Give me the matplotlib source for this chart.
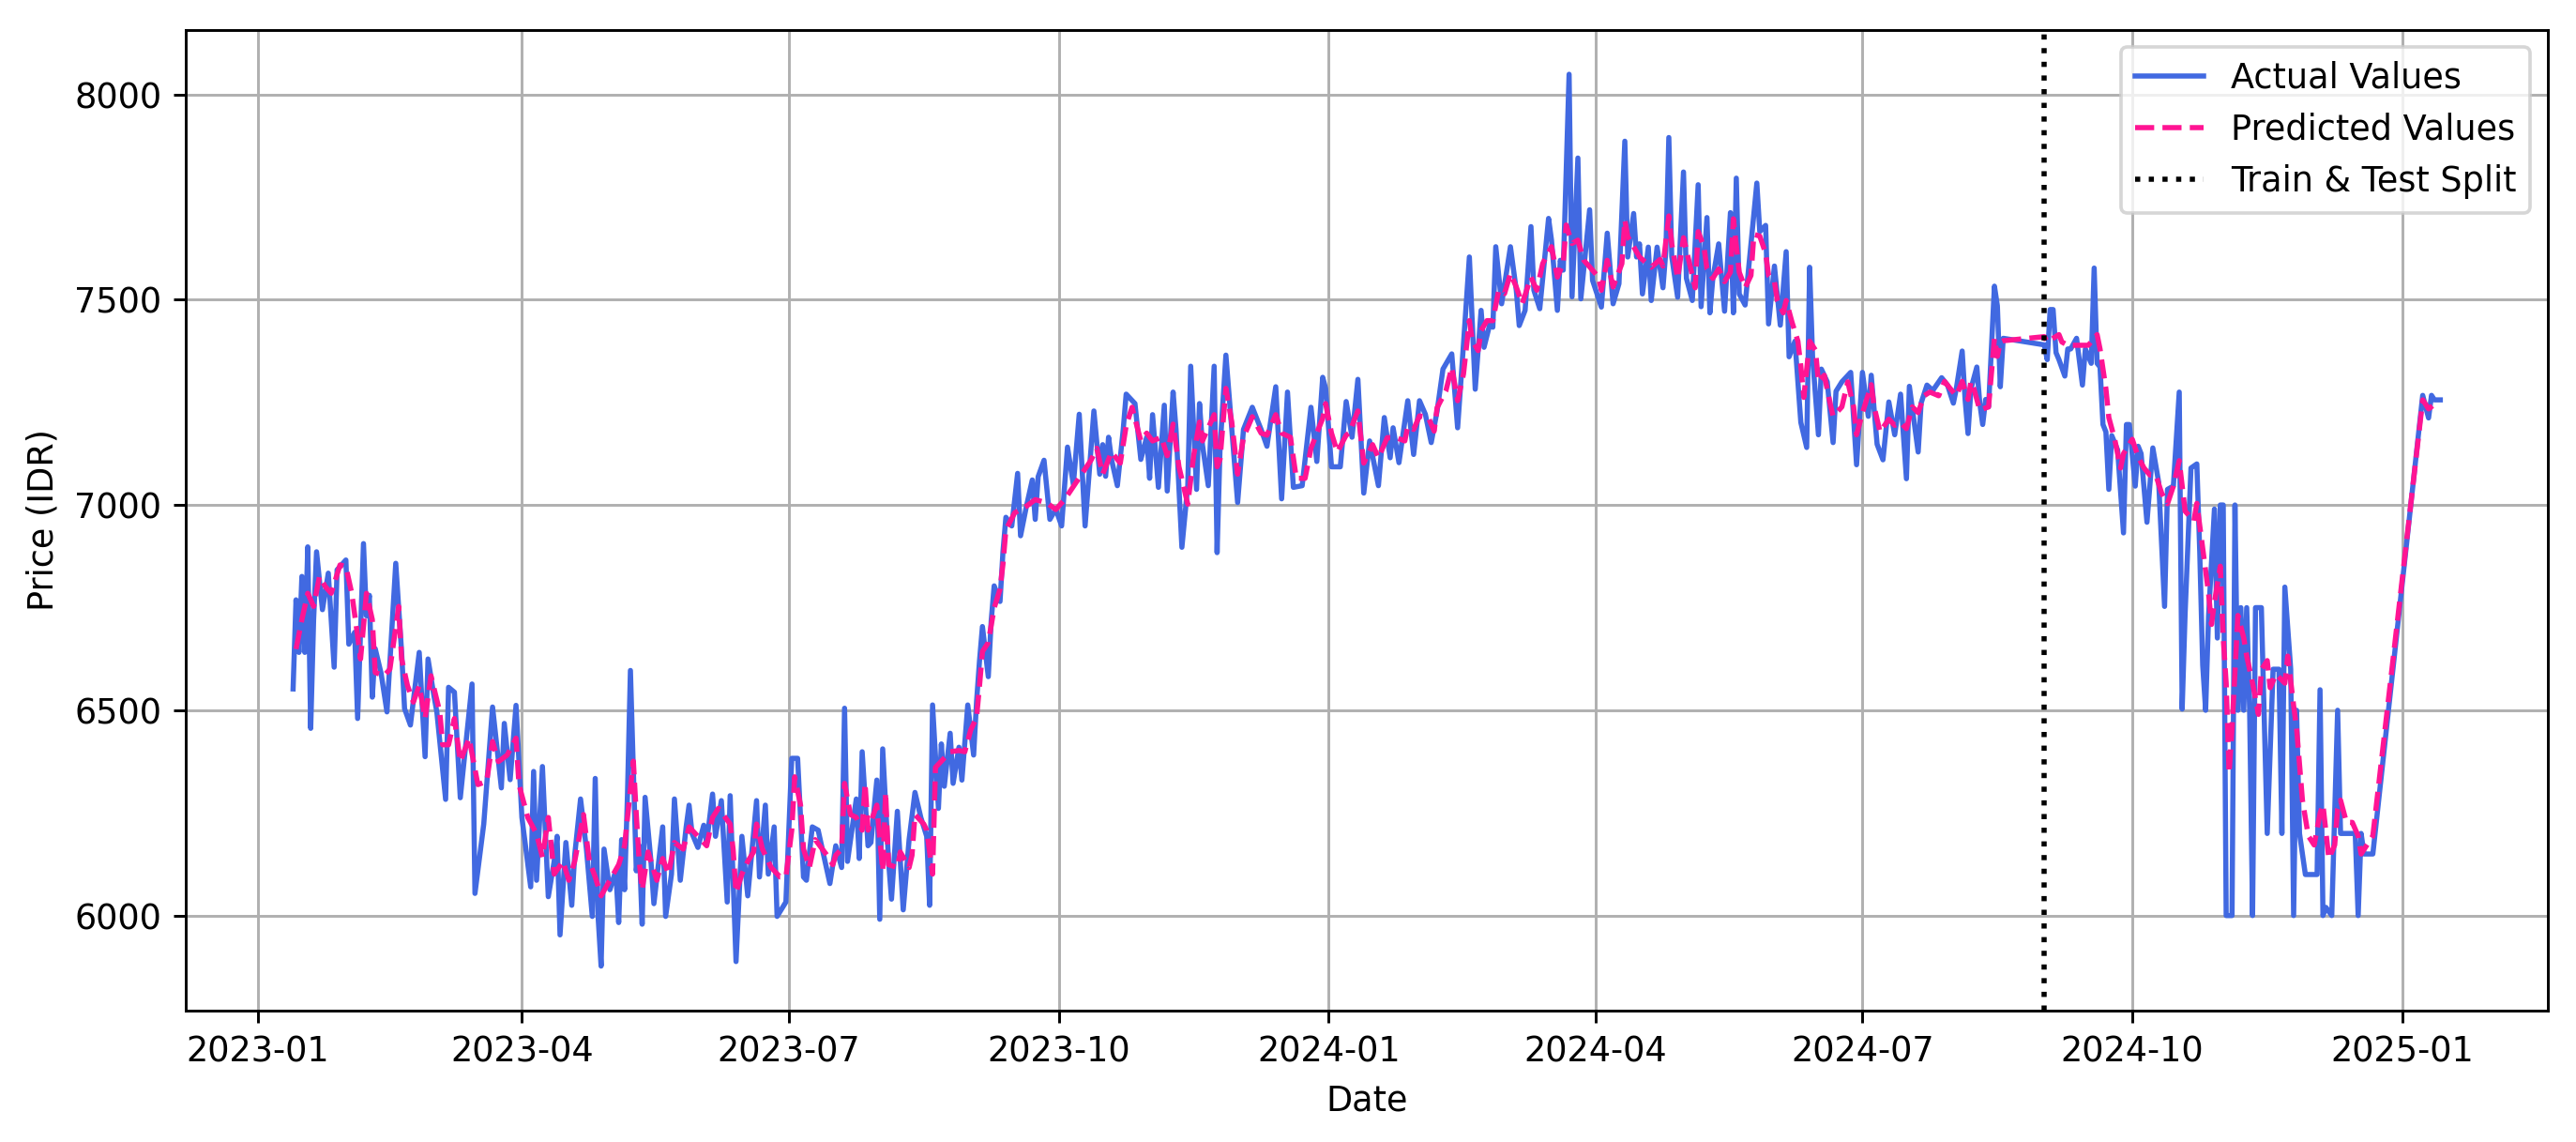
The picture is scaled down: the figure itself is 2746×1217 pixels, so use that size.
import pandas as pd
import numpy as np
from matplotlib import pyplot as plt
import matplotlib.dates as mdates

# day offsets counted from this date
base = pd.Timestamp("2023-01-01")

act_day = [
    12, 13, 14, 15, 16, 17, 18, 19, 20, 22, 24, 26, 27, 30, 31, 33, 34, 36, 37, 38,
    39, 40, 42, 44, 47, 49, 50, 52, 55, 57, 58, 60, 61, 64, 65, 67, 69, 73, 74, 77,
    80, 83, 84, 86, 88, 90, 93, 94, 95, 97, 99, 101, 102, 103, 105, 107, 108, 110, 111, 112,
    114, 115, 116, 117, 118, 120, 122, 123, 124, 125, 126, 127, 129, 130, 131, 132, 134, 135, 138, 139,
    141, 142, 144, 146, 147, 148, 150, 152, 153, 155, 156, 158, 160, 161, 163, 165, 167, 170, 171, 173,
    174, 176, 177, 180, 182, 184, 186, 187, 189, 191, 195, 197, 199, 200, 201, 204, 205, 206, 208, 209,
    211, 212, 213, 215, 216, 218, 220, 222, 224, 226, 228, 229, 230, 232, 233, 234, 236, 237, 239, 240,
    242, 244, 245, 246, 247, 249, 250, 251, 253, 254, 255, 257, 259, 260, 262, 264, 265, 266, 268, 270,
    272, 274, 276, 278, 280, 282, 285, 287, 288, 289, 290, 291, 293, 295, 296, 299, 301, 303, 304, 305,
    307, 309, 310, 312, 313, 315, 317, 318, 320, 321, 322, 324, 326, 327, 328, 330, 331, 334, 336, 339,
    342, 344, 347, 349, 351, 353, 356, 359, 361, 363, 364, 366, 369, 371, 373, 375, 377, 379, 382, 384,
    386, 387, 389, 392, 394, 396, 398, 400, 402, 404, 407, 409, 411, 413, 415, 417, 418, 420, 421, 422,
    424, 427, 429, 430, 432, 434, 435, 437, 440, 441, 443, 444, 445, 447, 448, 450, 451, 454, 455, 458,
    460, 462, 464, 466, 467, 469, 470, 471, 472, 474, 475, 477, 479, 480, 481, 482, 484, 486, 487, 489,
    491, 492, 494, 495, 496, 498, 500, 502, 503, 504, 505, 507, 509, 511, 512, 514, 515, 517, 519, 521,
    522, 524, 526, 528, 529, 530, 532, 533, 535, 537, 538, 540, 543, 545, 547, 549, 550, 552, 554, 556,
    558, 560, 562, 563, 566, 567, 569, 571, 574, 576, 578, 579, 581, 582, 583, 584, 586, 587, 588, 589,
    590, 592, 593, 594, 595, 609, 610, 611, 612, 613, 614, 616, 617, 618, 620, 622, 623, 625, 626, 627,
    628, 629, 630, 631, 632, 634, 636, 637, 638, 640, 641, 642, 644, 646, 648, 650, 651, 653, 655, 656,
    657, 659, 661, 662, 663, 664, 665, 667, 668, 669, 670, 671, 673, 674, 675, 676, 677, 678, 679, 680,
    681, 683, 685, 687, 689, 690, 691, 693, 694, 695, 696, 698, 702, 703, 704, 705, 707, 709, 710, 712,
    715, 716, 717, 718, 721, 738, 740, 741, 742, 744,
]
act_val = [
    6552, 6769, 6641, 6826, 6641, 6898, 6456, 6721, 6886, 6745, 6834, 6605, 6842, 6866, 6661, 6690, 6480, 6906, 6730, 6780,
    6532, 6650, 6590, 6496, 6858, 6641, 6504, 6464, 6641, 6387, 6625, 6536, 6496, 6283, 6556, 6544, 6287, 6564, 6054, 6223,
    6508, 6311, 6468, 6331, 6512, 6239, 6070, 6351, 6086, 6363, 6046, 6132, 6193, 5953, 6178, 6025, 6147, 6284, 6223, 6162,
    5998, 6334, 5995, 5877, 6162, 6063, 6109, 5983, 6185, 6063, 6296, 6597, 6109, 6170, 5979, 6288, 6132, 6029, 6216, 5998,
    6101, 6284, 6086, 6216, 6269, 6200, 6166, 6220, 6178, 6296, 6193, 6280, 6033, 6292, 5888, 6193, 6048, 6280, 6094, 6269,
    6101, 6216, 5998, 6033, 6383, 6383, 6094, 6086, 6216, 6208, 6078, 6170, 6117, 6505, 6132, 6284, 6139, 6399, 6170, 6178,
    6330, 5991, 6406, 6132, 6040, 6254, 6014, 6185, 6300, 6239, 6193, 6025, 6513, 6261, 6418, 6315, 6444, 6322, 6410, 6330,
    6513, 6391, 6521, 6620, 6704, 6582, 6719, 6803, 6765, 6886, 6970, 6949, 7077, 6925, 6997, 7061, 6965, 7069, 7109, 6965,
    6990, 6949, 7141, 7050, 7221, 6949, 7229, 7075, 7147, 7070, 7165, 7111, 7047, 7184, 7270, 7247, 7111, 7165, 7065, 7220,
    7043, 7243, 7034, 7275, 7184, 6897, 7047, 7338, 7038, 7247, 7147, 7047, 7338, 6884, 7138, 7365, 7275, 7006, 7184, 7238,
    7184, 7143, 7288, 7015, 7275, 7043, 7047, 7238, 7106, 7311, 7284, 7093, 7093, 7252, 7165, 7306, 7029, 7156, 7047, 7213,
    7115, 7188, 7103, 7254, 7123, 7254, 7221, 7152, 7229, 7331, 7368, 7188, 7392, 7604, 7282, 7474, 7384, 7441, 7433, 7629,
    7490, 7629, 7523, 7437, 7474, 7678, 7523, 7478, 7698, 7645, 7474, 7596, 7572, 8049, 7507, 7845, 7502, 7719, 7547, 7482,
    7662, 7490, 7539, 7886, 7604, 7710, 7604, 7636, 7514, 7628, 7498, 7628, 7529, 7620, 7895, 7605, 7506, 7811, 7552, 7498,
    7780, 7483, 7700, 7468, 7552, 7636, 7472, 7712, 7468, 7796, 7514, 7487, 7636, 7784, 7666, 7681, 7441, 7582, 7438, 7617,
    7361, 7399, 7201, 7140, 7579, 7361, 7171, 7331, 7300, 7152, 7277, 7300, 7323, 7098, 7323, 7216, 7316, 7148, 7110, 7251,
    7171, 7270, 7064, 7289, 7129, 7248, 7292, 7279, 7310, 7292, 7248, 7283, 7375, 7257, 7174, 7283, 7336, 7248, 7196, 7257,
    7239, 7533, 7485, 7288, 7406, 7390, 7354, 7476, 7476, 7371, 7354, 7314, 7380, 7380, 7406, 7292, 7380, 7345, 7577, 7345,
    7336, 7196, 7178, 7038, 7169, 7134, 6932, 7196, 7196, 7046, 7143, 7125, 6958, 7139, 7055, 6753, 7038, 7046, 7275, 6503,
    6735, 7090, 7100, 6884, 6610, 6500, 6730, 6990, 6676, 7000, 7000, 6000, 6000, 7000, 6500, 6750, 6500, 6750, 6500, 6000,
    6750, 6750, 6200, 6600, 6600, 6200, 6800, 6600, 6000, 6500, 6200, 6100, 6100, 6550, 6000, 6020, 6000, 6500, 6200, 6200,
    6200, 6000, 6200, 6150, 6150, 7267, 7212, 7267, 7256, 7256,
]

pred_day = [
    13, 15, 17, 19, 21, 23, 25, 28, 30, 32, 34, 35, 37, 39, 40, 43, 45, 48, 49, 51,
    53, 55, 57, 59, 62, 63, 65, 67, 69, 72, 75, 78, 80, 82, 85, 88, 89, 92, 95, 97,
    99, 101, 104, 106, 108, 111, 113, 115, 117, 120, 123, 125, 128, 129, 130, 131, 133, 136, 138, 140,
    142, 145, 147, 150, 153, 155, 157, 161, 162, 163, 165, 167, 169, 170, 172, 175, 178, 180, 182, 183,
    185, 186, 188, 190, 194, 196, 197, 199, 200, 202, 204, 206, 207, 208, 211, 213, 214, 215, 218, 219,
    222, 223, 224, 227, 228, 230, 231, 233, 236, 239, 241, 243, 245, 246, 247, 249, 251, 253, 254, 255,
    258, 262, 265, 269, 272, 275, 278, 281, 284, 286, 288, 291, 294, 296, 298, 301, 303, 305, 308, 310,
    312, 314, 317, 319, 321, 322, 326, 327, 328, 330, 332, 334, 336, 339, 342, 344, 347, 349, 352, 354,
    357, 359, 361, 363, 364, 366, 368, 371, 372, 375, 377, 380, 382, 385, 388, 391, 392, 394, 396, 399,
    401, 402, 405, 407, 409, 411, 413, 414, 416, 417, 419, 421, 423, 425, 427, 429, 431, 434, 436, 438,
    441, 443, 445, 446, 448, 450, 452, 454, 457, 458, 460, 462, 465, 466, 467, 469, 471, 475, 478, 479,
    481, 482, 484, 486, 488, 490, 491, 493, 494, 496, 498, 500, 502, 503, 505, 507, 509, 510, 512, 514,
    515, 517, 518, 520, 521, 523, 525, 526, 527, 529, 531, 532, 534, 536, 537, 540, 542, 544, 545, 547,
    550, 551, 553, 556, 558, 560, 562, 564, 566, 568, 570, 573, 575, 577, 579, 581, 583, 584, 585, 587,
    590, 592, 593, 594, 595, 609, 610, 612, 614, 615, 617, 619, 622, 624, 626, 627, 628, 630, 631, 633,
    635, 636, 639, 641, 643, 645, 647, 649, 651, 653, 655, 657, 660, 661, 663, 665, 666, 667, 669, 670,
    671, 672, 673, 675, 677, 678, 680, 682, 683, 685, 686, 688, 691, 692, 694, 695, 697, 699, 701, 703,
    704, 706, 708, 709, 710, 712, 714, 716, 717, 719, 721, 738, 740, 742,
]
pred_val = [
    6649, 6721, 6785, 6753, 6826, 6801, 6785, 6854, 6850, 6785, 6681, 6625, 6785, 6721, 6592, 6584, 6600, 6753, 6625, 6560,
    6520, 6560, 6480, 6584, 6496, 6416, 6416, 6480, 6375, 6432, 6319, 6327, 6424, 6375, 6391, 6432, 6319, 6239, 6199, 6142,
    6239, 6101, 6132, 6086, 6132, 6246, 6132, 6094, 6048, 6086, 6124, 6170, 6376, 6246, 6132, 6063, 6155, 6086, 6139, 6101,
    6178, 6162, 6216, 6193, 6170, 6239, 6261, 6223, 6162, 6056, 6101, 6132, 6155, 6223, 6162, 6117, 6094, 6094, 6208, 6338,
    6269, 6162, 6117, 6185, 6147, 6124, 6147, 6162, 6322, 6246, 6239, 6208, 6322, 6208, 6269, 6109, 6300, 6124, 6117, 6155,
    6117, 6147, 6246, 6223, 6208, 6101, 6361, 6376, 6399, 6402, 6399, 6452, 6482, 6559, 6643, 6665, 6749, 6795, 6856, 6940,
    6981, 6997, 7013, 7005, 6989, 7013, 7045, 7077, 7109, 7138, 7075, 7129, 7102, 7193, 7238, 7156, 7175, 7156, 7165, 7120,
    7197, 7093, 7002, 7120, 7202, 7156, 7220, 7093, 7111, 7284, 7202, 7075, 7165, 7215, 7175, 7170, 7220, 7175, 7165, 7065,
    7065, 7138, 7175, 7211, 7247, 7175, 7129, 7170, 7175, 7229, 7102, 7147, 7115, 7164, 7164, 7156, 7192, 7184, 7217, 7213,
    7180, 7237, 7278, 7335, 7254, 7319, 7449, 7400, 7376, 7425, 7449, 7449, 7523, 7515, 7564, 7531, 7490, 7555, 7523, 7588,
    7629, 7555, 7588, 7682, 7637, 7645, 7596, 7580, 7555, 7523, 7596, 7531, 7588, 7694, 7653, 7629, 7604, 7579, 7598, 7582,
    7704, 7636, 7552, 7651, 7590, 7529, 7666, 7628, 7575, 7552, 7575, 7544, 7567, 7697, 7567, 7529, 7559, 7659, 7655, 7613,
    7559, 7544, 7498, 7468, 7498, 7445, 7399, 7338, 7262, 7399, 7377, 7300, 7316, 7247, 7216, 7239, 7300, 7239, 7171, 7224,
    7293, 7239, 7178, 7209, 7194, 7201, 7186, 7239, 7225, 7266, 7275, 7266, 7301, 7283, 7266, 7301, 7257, 7301, 7283, 7231,
    7239, 7406, 7362, 7397, 7400, 7410, 7397, 7406, 7415, 7397, 7389, 7389, 7389, 7389, 7406, 7415, 7380, 7283, 7213, 7160,
    7090, 7125, 7160, 7117, 7090, 7073, 7073, 7029, 7003, 7046, 7108, 6985, 6961, 7004, 6895, 6785, 6709, 6763, 6851, 6676,
    6566, 6347, 6457, 6731, 6676, 6632, 6566, 6490, 6599, 6621, 6555, 6588, 6566, 6632, 6511, 6457, 6281, 6194, 6172, 6249,
    6270, 6139, 6172, 6260, 6281, 6227, 6227, 6194, 6150, 6172, 6194, 7256, 7234, 7245,
]

split_date = "2024-09-01"

act_dates = base + pd.to_timedelta(act_day, unit="D")
pred_dates = base + pd.to_timedelta(pred_day, unit="D")

dpi = 264
fig, ax = plt.subplots(figsize=(2746 / dpi, 1217 / dpi), dpi=dpi)

ax.plot(act_dates, act_val, color='royalblue', label='Actual Values')
ax.plot(pred_dates, pred_val, color='deeppink', linestyle='--', label='Predicted Values')
ax.axvline(pd.Timestamp(split_date), color='black', linestyle=':', label='Train & Test Split')

ax.xaxis.set_major_locator(mdates.MonthLocator(bymonth=[1, 4, 7, 10]))
ax.xaxis.set_major_formatter(mdates.DateFormatter('%Y-%m'))

ax.set_xlabel('Date')
ax.set_ylabel('Price (IDR)')
ax.legend(loc='upper right')
ax.grid(True)

fig.subplots_adjust(left=0.0721, right=0.989, bottom=0.115, top=0.974)
fig.savefig('out.png', dpi=dpi)
